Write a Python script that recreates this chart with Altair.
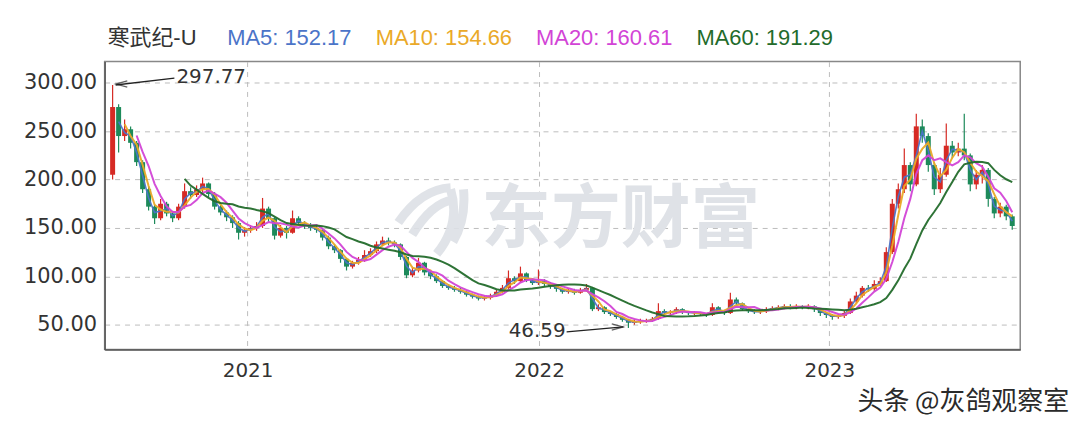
import altair as alt
import pandas as pd

# ---- data (weekly candles, trading-day index) ----
closes = [275, 245, 252, 238, 218, 190, 172, 160, 175, 165,
          160, 172, 188, 184, 190, 196, 185, 172, 166, 161,
          155, 145, 148, 150, 152, 170, 160, 142, 150, 145,
          160, 155, 152, 150, 148, 140, 131, 127, 118, 110,
          114, 117, 122, 126, 133, 137, 135, 133, 120, 101,
          106, 114, 104, 100, 95, 90, 88, 86, 84, 81,
          79, 77, 78, 80, 84, 88, 98, 95, 103, 96,
          93, 95, 92, 90, 87, 84, 85, 83, 86, 88,
          66, 68, 63, 61, 58, 55, 52, 53, 54, 54,
          56, 64, 62, 63, 66, 63, 62, 62, 61, 60,
          68, 64, 62, 76, 72, 66, 64, 63, 64, 66,
          67, 68, 69, 68, 69, 68, 69, 66, 62, 60,
          58, 59, 62, 74, 80, 88, 87, 92, 95, 125,
          175, 190, 215, 195, 255, 245, 215, 190, 205, 235,
          228, 232, 225, 195, 205, 210, 180, 165, 172, 162,
          152]
highs = [297.77, 278, 262, 255, 240, 220, 193, 174, 180, 177,
         167, 175, 196, 192, 194, 202, 197, 187, 174, 168,
         163, 157, 151, 153, 156, 181, 172, 161, 153, 152,
         168, 162, 157, 155, 153, 150, 142, 133, 128, 119,
         116, 120, 127, 129, 136, 141, 140, 137, 134, 121,
         109, 119, 115, 106, 102, 96, 92, 90, 88, 85,
         82, 80, 80, 82, 86, 91, 106, 100, 110, 104,
         98, 107, 97, 94, 91, 88, 87, 87, 88, 92,
         89, 71, 69, 64, 62, 59, 56, 55, 56, 56,
         58, 72, 66, 65, 68, 67, 64, 64, 63, 62,
         72, 69, 65, 83, 78, 73, 67, 66, 66, 68,
         69, 70, 71, 71, 71, 70, 71, 70, 67, 63,
         61, 61, 64, 77, 84, 90, 91, 96, 99, 130,
         180, 196, 232, 218, 268, 262, 248, 218, 212, 258,
         240, 238, 268, 227, 210, 215, 212, 182, 176, 174,
         164]
lows = [200, 228, 240, 232, 214, 186, 168, 154, 158, 162,
        156, 158, 170, 180, 182, 187, 182, 169, 163, 157,
        150, 138, 141, 145, 147, 150, 156, 138, 140, 139,
        144, 152, 149, 147, 145, 137, 128, 124, 114, 106,
        108, 112, 115, 120, 124, 131, 132, 130, 117, 98,
        99, 104, 101, 97, 93, 88, 86, 84, 82, 79,
        77, 75, 75, 76, 79, 83, 87, 92, 94, 94,
        91, 91, 89, 87, 84, 82, 82, 81, 82, 84,
        64, 64, 61, 59, 56, 53, 46.59, 50, 51, 52,
        53, 55, 60, 60, 61, 61, 60, 60, 59, 58,
        59, 62, 60, 61, 70, 64, 62, 61, 61, 62,
        64, 65, 66, 66, 66, 66, 66, 63, 59, 57,
        55, 56, 57, 61, 72, 78, 84, 85, 90, 94,
        123, 170, 186, 188, 193, 238, 208, 184, 186, 203,
        222, 224, 220, 188, 190, 196, 172, 160, 161, 158,
        148]
first_open = 205

year_labels = ["2021", "2022", "2023"]
year_start_day = [115, 358, 600]
total_days = 755

stock_name = "寒武纪-U"
ma_names = ["MA5", "MA10", "MA20", "MA60"]
ma_last = [152.17, 154.66, 160.61, 191.29]
ma_weeks = [1, 2, 4, 12]           # window length in weekly points (back frame)
ma_colors = ["#4b74c8", "#eaa928", "#d244d6", "#236b2b"]

opens = [first_open] + closes[:-1]
df = pd.DataFrame({
    "day": [5 * i + 2.5 for i in range(len(closes))],
    "open": opens, "high": highs, "low": lows, "close": closes,
})

RED = "#d62a24"
GREEN = "#1d8a5a"
FONT = "DejaVu Sans"

label_expr = " : ".join(
    f"datum.value == {d} ? '{l}'" for d, l in zip(year_start_day, year_labels)
) + " : ''"

xscale = alt.Scale(domain=[0, total_days], nice=False, zero=False)
yscale = alt.Scale(domain=[24.3, 322], nice=False, zero=False)

xaxis = alt.Axis(values=year_start_day, labelExpr=label_expr, title=None,
                 ticks=False, labelPadding=11, labelFont=FONT, labelFontSize=20,
                 labelColor="#333", grid=True, gridDash=[5, 5], gridColor="#bdbdbd",
                 domainColor="#555", domainWidth=1.5)
yaxis = alt.Axis(values=[50, 100, 150, 200, 250, 300], format=".2f", title=None,
                 ticks=False, labelPadding=8, labelFont=FONT, labelFontSize=21,
                 labelColor="#333", grid=True, gridDash=[5, 5], gridColor="#bdbdbd",
                 domainColor="#555", domainWidth=1.5)

X = alt.X("day:Q", scale=xscale, axis=xaxis)
base = alt.Chart(df)

wicks = base.mark_rule(strokeWidth=1.2).encode(
    x=X,
    y=alt.Y("low:Q", scale=yscale, axis=yaxis),
    y2="high:Q",
    color=alt.condition("datum.close >= datum.open", alt.value(RED), alt.value(GREEN)),
)
bodies = base.mark_bar(size=5).encode(
    x=X,
    y=alt.Y("open:Q", scale=yscale, axis=yaxis),
    y2="close:Q",
    color=alt.condition("datum.close >= datum.open", alt.value(RED), alt.value(GREEN)),
)

layers = [wicks, bodies]
for name, k, col in zip(ma_names, ma_weeks, ma_colors):
    ln = base.transform_window(
        ma="mean(close)", n="count(close)", frame=[-k, 0],
        sort=[alt.SortField("day")]
    ).transform_filter(f"datum.n >= {k + 1}").mark_line(
        color=col, strokeWidth=2.0 if name != "MA5" else 1.6, opacity=0.95
    ).encode(x=X, y=alt.Y("ma:Q", scale=yscale, axis=yaxis))
    layers.append(ln)

# annotations of max / min
imax = int(df["high"].idxmax())
imin = int(df["low"].idxmin())
mx = df.iloc[[imax]].assign(lab=lambda d: d["high"].map(lambda v: f"{v:.2f}"))
mn = df.iloc[[imin]].assign(lab=lambda d: d["low"].map(lambda v: f"{v:.2f}"))

ann_col = "#222"
max_line = alt.Chart(mx).mark_rule(color=ann_col, strokeWidth=1.3, xOffset=3, x2Offset=62,
                                   y2Offset=-7).encode(
    x=X, x2="day:Q", y=alt.Y("high:Q", scale=yscale, axis=yaxis), y2="high:Q")
max_head = alt.Chart(mx).mark_point(shape="M 1 -0.55 L -1 0 L 1 0.55", filled=False,
                                    stroke=ann_col, strokeWidth=1.3, size=130,
                                    xOffset=9, yOffset=-1).encode(
    x=X, y=alt.Y("high:Q", scale=yscale, axis=yaxis))
max_text = alt.Chart(mx).mark_text(align="left", baseline="middle", dx=64, dy=-8,
                                   font=FONT, fontSize=20, color="#333").encode(
    x=X, y=alt.Y("high:Q", scale=yscale, axis=yaxis), text="lab:N")

min_line = alt.Chart(mn).mark_rule(color=ann_col, strokeWidth=1.3, xOffset=-62, x2Offset=-5,
                                   yOffset=4, y2Offset=-1).encode(
    x=X, x2="day:Q", y=alt.Y("low:Q", scale=yscale, axis=yaxis), y2="low:Q")
min_head = alt.Chart(mn).mark_point(shape="M -1 -0.55 L 1 0 L -1 0.55", filled=False,
                                    stroke=ann_col, strokeWidth=1.3, size=130,
                                    xOffset=-11, yOffset=-1).encode(
    x=X, y=alt.Y("low:Q", scale=yscale, axis=yaxis))
min_text = alt.Chart(mn).mark_text(align="right", baseline="middle", dx=-63, dy=3,
                                   font=FONT, fontSize=20, color="#333").encode(
    x=X, y=alt.Y("low:Q", scale=yscale, axis=yaxis), text="lab:N")

# watermark (decorative)
one = pd.DataFrame({"a": [0]})
wm_logo = alt.Chart(one).mark_point(
    shape=("M -0.95 0.1 Q -0.3 -0.85 0.55 -0.9 "
           "M -0.55 0.45 Q 0.0 -0.45 0.6 -0.55 "
           "M 0.15 1.0 Q 0.85 0.15 0.55 -0.85 "
           "M 0.62 0.65 Q 1.0 0.0 0.92 -0.85"),
    filled=False, stroke="#dde1e6", strokeWidth=9, size=4900, opacity=0.9,
).encode(x=alt.value(328), y=alt.value(158))
wm_text = alt.Chart(one).mark_text(
    text="东方财富", font="Noto Sans CJK SC", fontSize=70, fontWeight="bold",
    color="#dfe2e7", align="center", baseline="middle",
).encode(x=alt.value(518), y=alt.value(160))

# header
head_font = "Liberation Sans, Noto Sans CJK SC"
header_x = [3, 123, 272, 433, 594]
header_texts = [stock_name] + [f"{n}: {v:.2f}" for n, v in zip(ma_names, ma_last)]
header_cols = ["#333333"] + ma_colors
header_layers = [
    alt.Chart(one).mark_text(text=t, font=head_font, fontSize=22, color=c,
                             align="left", baseline="alphabetic").encode(
        x=alt.value(hx), y=alt.value(-17))
    for t, c, hx in zip(header_texts, header_cols, header_x)
]

credit = alt.Chart(one).mark_text(
    text="头条 @灰鸽观察室", font="Noto Sans CJK SC", fontSize=26, color="#2a2a2a",
    align="right", baseline="middle",
).encode(x=alt.value(968), y=alt.value(342))

chart = alt.layer(
    wm_logo, wm_text, *layers, max_line, max_head, max_text,
    min_line, min_head, min_text, *header_layers, credit,
).properties(
    width=919, height=289,
    padding={"left": 97, "top": 53, "right": 60, "bottom": 74},
    autosize=alt.AutoSizeParams(type="none"),
    background="white",
).configure_view(stroke="#888", strokeWidth=1.5)

chart.save("out.html", embed_options={"renderer": "svg", "actions": False})
